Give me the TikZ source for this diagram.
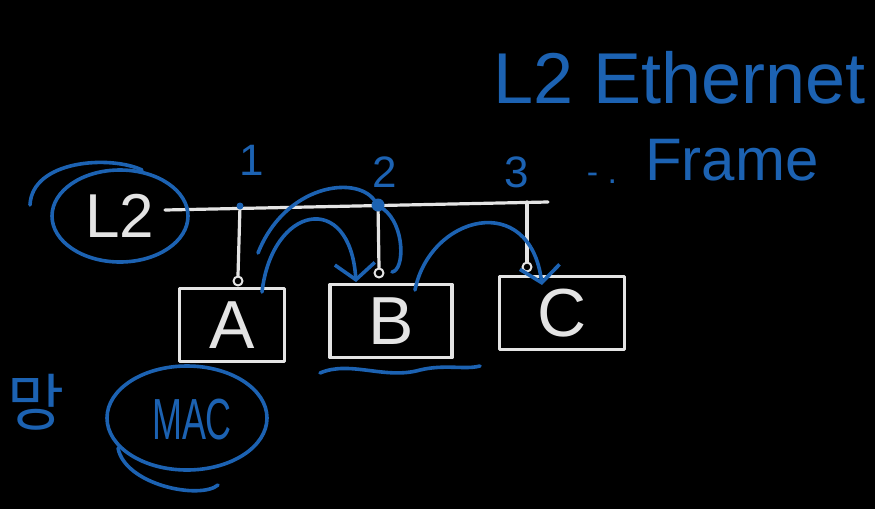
\documentclass[tikz,border=0pt]{standalone}
\usepackage{fontspec}
\setmainfont{Liberation Sans}
\newfontfamily\krfont{Noto Sans CJK KR}
\usetikzlibrary{positioning, arrows.meta}
\definecolor{pen}{RGB}{28,98,178}
\definecolor{chalk}{RGB}{228,228,228}

\begin{document}
\begin{tikzpicture}[
    x=1pt, y=-1pt,
    line cap=round, line join=round,
    every node/.style={inner sep=0pt},
    chalkline/.style={draw=chalk, line width=3.2pt},
    inkline/.style={draw=pen, line width=3.6pt},
    host/.style={chalkline, minimum width=105pt, minimum height=73pt, text=chalk, font=\fontsize{68}{68}\selectfont},
    port/.style={circle, draw=chalk, line width=2pt, minimum size=9pt},
    tap/.style={circle, fill=pen, minimum size=#1},
    tap/.default=6pt,
    ink/.style={text=pen},
    hop/.style={inkline, -{Straight Barb[length=16pt, width=40pt]}}
]

   % Backdrop
   \useasboundingbox (0,0) rectangle (875,509);
   \fill[black] (0,0) rectangle (875,509);
   \clip (0,0) rectangle (875,509);

   % Hosts
   \node[host] (A) at (232,325) {A};
   \node[host, minimum width=122pt] (B) at (391,321) {B};
   \node[host, minimum width=125pt] (C) at (562,313) {C};

   % Bus, drops and ports
   \coordinate (busw) at (165,210);
   \coordinate (buse) at (548,202);
   \coordinate (t1) at (240,206);
   \coordinate (t2) at (378,205);
   \coordinate (t3) at (527,202);
   \node[port] (p1) at (238,281) {};
   \node[port] (p2) at (379,273) {};
   \node[port] (p3) at (527,267) {};
   \draw[chalkline] (busw) -- (buse);
   \draw[chalkline] (t1) -- (p1.north);
   \draw[chalkline] (t2) -- (p2.north);
   \draw[chalkline] (t3) -- (p3.north);
   \node[tap=7pt] (d1) at (t1) {};
   \node[tap=13pt] (d2) at (t2) {};

   % Port numbers
   \node[ink, font=\fontsize{44}{44}\selectfont] (n1) at (252,160) {1};
   \node[ink, font=\fontsize{44}{44}\selectfont] (n2) at (385,172) {2};
   \node[ink, font=\fontsize{44}{44}\selectfont] (n3) at (517,172) {3};

   % Layer tag
   \node[text=chalk, font=\fontsize{62}{62}\selectfont] (l2) at (120,216) {L2};
   \draw[inkline] (l2) ellipse [x radius=68pt, y radius=46pt];
   \draw[inkline] (30,205) .. controls (32,160) and (110,155) .. (142,170);

   % Frame hops
   \coordinate (a1) at (262,292);
   \coordinate (a2) at (258,253);
   \coordinate (b1) at (415,290);
   \coordinate (b2) at (392,272);
   \draw[hop] (a1) .. controls (272,205) and (350,190) .. (356,282);
   \draw[inkline] (a2) .. controls (285,185) and (355,175) .. (d2);
   \draw[inkline] (d2) .. controls (405,225) and (405,270) .. (b2);
   \draw[hop] (b1) .. controls (430,215) and (530,190) .. (542,285);
   \draw[inkline] (320,373) .. controls (350,360) and (385,380) .. (420,370)
                  .. controls (445,364) and (465,370) .. (480,366);

   % Address
   \node[ink, font=\fontsize{58}{58}\selectfont] (mac) at (192,420) {\scalebox{0.62}[1]{MAC}};
   \draw[inkline] (187,418) ellipse [x radius=80pt, y radius=52pt];
   \draw[inkline] (118,448) .. controls (125,485) and (200,500) .. (218,485);
   \node[ink, font=\krfont\fontsize{62}{62}\selectfont] (mang) at (36,402) {망};

   % Title
   \node[ink, font=\fontsize{72}{72}\selectfont, anchor=base west] (title) at (493,103) {L2 Ethernet};
   \node[ink, font=\fontsize{34}{34}\selectfont] (dash) at (602,178) {- .};
   \node[ink, font=\fontsize{60}{60}\selectfont, anchor=base west] (frame) at (645,180) {Frame};

\end{tikzpicture}
\end{document}
